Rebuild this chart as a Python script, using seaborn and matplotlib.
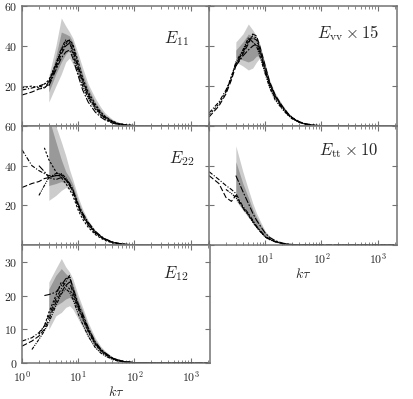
import numpy as np
import pandas as pd
import matplotlib
matplotlib.use("Agg")
import matplotlib.pyplot as plt
from matplotlib.ticker import LogLocator, NullFormatter
import seaborn as sns

nan = np.nan

# wavenumber grid (k*tau) shared by all curves
k = [1, 1.5, 2, 2.5, 3, 4, 5, 6, 7, 8, 10, 12, 15, 20, 25, 30, 40, 50, 70, 100, 200, 2000]
gap = [nan] * 4

# ---- E11 ----
e11_curves = [
    [18, 19, 20, 21, 22, 30, 38, 42, 43, 40, 30, 23, 16, 10, 6.5, 4.5, 2.3, 1.3, 0.5, 0.2, 0.03, 0],
    [15.5, 17, 18.5, 19, 21, 29, 36, 40, 41.5, 38, 29, 22, 15, 9.5, 6, 4, 2, 1.1, 0.45, 0.15, 0.02, 0],
    [nan, nan, 20, 19, 22, 31, 39, 43, 42, 36, 27, 20, 14, 8.5, 5.5, 3.5, 1.8, 1, 0.4, 0.15, 0.02, 0],
    [nan, nan, nan, nan, 20, 28, 34, 37, 38, 34, 25, 18, 12, 7, 4.5, 3, 1.5, 0.8, 0.3, 0.1, 0.01, 0],
    [19, 20, 19, 21, 23, 31, 37, 41, 43, 41, 32, 24, 17, 11, 7, 4.8, 2.5, 1.4, 0.6, 0.25, 0.04, 0],
]
e11_light_lo = gap + [12, 20, 26, 32, 34, 31, 25, 19, 13, 8, 5, 3.3, 1.6, 0.9, 0.3, 0.1, 0.01, 0]
e11_light_hi = gap + [25, 40, 54, 50, 47, 44, 36, 29, 21, 14, 9.5, 6.5, 3.5, 2, 0.9, 0.4, 0.05, 0]
e11_dark_lo = gap + [17, 26, 32, 36, 38, 35, 27, 21, 14.5, 9, 6, 4, 2, 1.1, 0.4, 0.15, 0.02, 0]
e11_dark_hi = gap + [22, 35, 47, 46, 45, 42, 33, 26, 19, 12, 8, 5.5, 3, 1.7, 0.7, 0.3, 0.04, 0]

# ---- Evv x 15 ----
evv_curves = [
    [6.5, 12, 18, 24, 31, 37, 42, 44, 43, 38, 28, 21, 15, 9.5, 6, 4, 2, 1.1, 0.4, 0.15, 0.02, 0],
    [4.5, 10, 16, 23, 30, 36, 41, 46, 45, 40, 30, 22, 15.5, 10, 6.5, 4.3, 2.2, 1.2, 0.45, 0.15, 0.02, 0],
    [nan, nan, 17, 24, 32, 38, 44, 42, 40, 35, 26, 19, 13, 8.5, 5.5, 3.6, 1.8, 1, 0.35, 0.12, 0.02, 0],
    [nan, nan, nan, nan, 30, 35, 38, 40, 41, 37, 27, 20, 14, 9, 5.8, 3.8, 1.9, 1.05, 0.4, 0.13, 0.02, 0],
    [5.5, 11, 17, 25, 31, 37, 43, 45, 44, 39, 29, 21.5, 15, 9.8, 6.3, 4.1, 2.1, 1.15, 0.42, 0.14, 0.02, 0],
]
evv_light_lo = gap + [32, 30, 28, 29, 32, 34, 26, 19.5, 13.5, 8.8, 5.7, 3.8, 1.9, 1.05, 0.38, 0.13, 0.02, 0]
evv_light_hi = gap + [42, 46, 51, 48, 45, 41, 31, 23, 16.5, 10.8, 7, 4.6, 2.4, 1.3, 0.5, 0.17, 0.03, 0]
evv_dark_lo = gap + [34, 33, 32, 33, 35, 35, 27, 20, 14, 9.2, 6, 3.9, 2, 1.1, 0.4, 0.14, 0.02, 0]
evv_dark_hi = gap + [38, 42, 46, 45, 43, 39, 30, 22, 15.8, 10.3, 6.7, 4.4, 2.3, 1.25, 0.46, 0.16, 0.02, 0]

# ---- E22 ----
e22_curves = [
    [48, 40, 37.5, 36, 35, 35, 35, 33, 30, 27, 19, 14.5, 10, 6, 4, 2.7, 1.4, 0.8, 0.3, 0.1, 0.01, 0],
    [29, 31, 32, 33.5, 34, 35, 35.5, 33, 30, 27, 19.5, 15, 10.5, 6.3, 4.2, 2.8, 1.4, 0.8, 0.3, 0.1, 0.01, 0],
    [nan, nan, 25, 30, 34, 36, 36, 34, 31, 28, 20, 15.5, 11, 6.6, 4.4, 3, 1.5, 0.85, 0.3, 0.1, 0.01, 0],
    [nan, nan, 40, 37, 34, 33, 34, 33, 31, 28, 20.5, 16, 11.5, 7, 4.6, 3.1, 1.6, 0.9, 0.32, 0.1, 0.01, 0],
    [nan, nan, nan, 49, 43, 37, 34, 31, 28, 25, 17.5, 13, 9, 5.3, 3.5, 2.3, 1.1, 0.6, 0.2, 0.07, 0.01, 0],
]
e22_light_lo = gap + [22.5, 25, 27.5, 29, 28, 25.5, 19, 14.5, 10, 6, 4, 2.7, 1.3, 0.75, 0.26, 0.08, 0.01, 0]
e22_light_hi = gap + [66, 60, 52, 45, 38, 33, 24, 18, 12.5, 7.5, 5, 3.4, 1.7, 1, 0.35, 0.12, 0.02, 0]
e22_dark_lo = gap + [30, 31, 32, 31, 30, 27.5, 19.5, 15, 10.5, 6.5, 4.3, 2.9, 1.45, 0.82, 0.3, 0.1, 0.01, 0]
e22_dark_hi = gap + [64, 52, 43, 37, 34, 30.5, 22, 16.5, 11.5, 7, 4.7, 3.2, 1.6, 0.9, 0.33, 0.11, 0.01, 0]

# ---- Ett x 10 ----
ett_curves = [
    [37, 33, 30, 28, 26, 19.5, 16, 12.5, 9.5, 7.5, 4.3, 3, 1.8, 0.8, 0.4, 0.22, 0.08, 0.03, 0.01, 0, 0, 0],
    [35, 31, 24, 22, 25, 19, 15.5, 12, 9.2, 7.2, 4.1, 2.8, 1.7, 0.75, 0.38, 0.2, 0.07, 0.03, 0.01, 0, 0, 0],
    [nan, nan, 28, 26, 24, 18.5, 15, 11.5, 9, 7, 4, 2.7, 1.6, 0.7, 0.35, 0.2, 0.07, 0.03, 0.01, 0, 0, 0],
    [nan, nan, nan, nan, 35, 27, 21, 16, 12.5, 10, 6, 3.8, 2.2, 1, 0.5, 0.28, 0.1, 0.04, 0.01, 0, 0, 0],
]
ett_light_lo = gap + [22.5, 17.5, 14, 11, 8.5, 6.5, 3.7, 2.5, 1.4, 0.6, 0.3, 0.17, 0.06, 0.02, 0.01, 0, 0, 0]
ett_light_hi = gap + [50, 37, 28, 21, 16, 12.5, 7, 4.5, 2.6, 1.2, 0.6, 0.33, 0.12, 0.05, 0.01, 0, 0, 0]
ett_dark_lo = gap + [26, 20, 16, 12.5, 9.5, 7.5, 4.3, 2.9, 1.7, 0.75, 0.38, 0.21, 0.08, 0.03, 0.01, 0, 0, 0]
ett_dark_hi = gap + [42, 31, 24, 18, 14, 11, 6.2, 4, 2.3, 1.05, 0.52, 0.29, 0.1, 0.04, 0.01, 0, 0, 0]

# ---- E12 ----
e12_curves = [
    [6.5, 7.5, 9, 11, 14, 19, 22, 24, 26, 22, 17, 14, 10, 6, 4, 2.9, 1.5, 0.9, 0.35, 0.12, 0.01, 0],
    [5, 6.5, 8, 10, 13, 18, 21, 23, 24, 21, 16.5, 13.5, 9.7, 5.8, 3.8, 2.7, 1.4, 0.8, 0.3, 0.1, 0.01, 0],
    [nan, 4, 7, 9.5, 12, 17, 20.5, 22, 21, 19, 14.5, 11.5, 8, 4.6, 3, 2.1, 1.1, 0.6, 0.22, 0.08, 0.01, 0],
    [nan, nan, nan, 20, 20.3, 21, 23, 25, 25.5, 22.5, 17.5, 14.5, 10.5, 6.3, 4.2, 3, 1.6, 0.95, 0.36, 0.12, 0.01, 0],
    [nan, nan, 8.5, 11, 15, 20, 24, 23, 22, 20, 16, 13, 9.3, 5.5, 3.6, 2.5, 1.3, 0.75, 0.28, 0.1, 0.01, 0],
]
e12_light_lo = gap + [10, 14, 15, 16.5, 17, 16, 13, 10.5, 7.5, 4.5, 3, 2.1, 1.1, 0.6, 0.22, 0.07, 0.01, 0]
e12_light_hi = gap + [24, 28, 31, 28.5, 27, 25, 20, 16.5, 12, 7.5, 5, 3.6, 1.9, 1.1, 0.42, 0.15, 0.02, 0]
e12_dark_lo = gap + [14, 17, 18, 19, 19.5, 18.5, 15, 12, 8.7, 5.2, 3.4, 2.4, 1.25, 0.7, 0.26, 0.09, 0.01, 0]
e12_dark_hi = gap + [22, 26, 28, 26.5, 25.5, 23.5, 18.5, 15.5, 11, 6.8, 4.5, 3.2, 1.7, 1, 0.38, 0.13, 0.02, 0]

sns.set_style("ticks")
plt.rcParams["mathtext.fontset"] = "cm"
plt.rcParams["font.family"] = ["DejaVu Serif"]

line_styles = [(0, (4, 1.5, 1, 1.5)), (0, (5, 2)), (0, (3, 1, 1, 1, 1, 1)),
               (0, (6, 1.5, 1.5, 1.5)), (0, (2, 1.5))]
SPINE = "0.45"
W = 188 / 413

fig = plt.figure(figsize=(4.13, 3.99), dpi=100)
ax11 = fig.add_axes([22 / 413, 1 - 126 / 399, W, 120 / 399])
axvv = fig.add_axes([209 / 413, 1 - 126 / 399, W, 120 / 399])
ax22 = fig.add_axes([22 / 413, 1 - 245 / 399, W, 119 / 399])
axtt = fig.add_axes([209 / 413, 1 - 245 / 399, W, 119 / 399])
ax12 = fig.add_axes([22 / 413, 1 - 363 / 399, W, 118 / 399])

panels = [
    (ax11, e11_curves, e11_light_lo, e11_light_hi, e11_dark_lo, e11_dark_hi, r"$E_{11}$", (0.82, 0.73)),
    (axvv, evv_curves, evv_light_lo, evv_light_hi, evv_dark_lo, evv_dark_hi, r"$E_{\rm vv}\times 15$", (0.74, 0.775)),
    (ax22, e22_curves, e22_light_lo, e22_light_hi, e22_dark_lo, e22_dark_hi, r"$E_{22}$", (0.85, 0.73)),
    (axtt, ett_curves, ett_light_lo, ett_light_hi, ett_dark_lo, ett_dark_hi, r"$E_{\rm tt}\times 10$", (0.74, 0.79)),
    (ax12, e12_curves, e12_light_lo, e12_light_hi, e12_dark_lo, e12_dark_hi, r"$E_{12}$", (0.82, 0.76)),
]

for ax, curves, llo, lhi, dlo, dhi, label, pos in panels:
    ax.fill_between(k, llo, lhi, color="0.8", lw=0)
    ax.fill_between(k, dlo, dhi, color="0.6", lw=0)
    for i, vals in enumerate(curves):
        df = pd.DataFrame({"k": k, "E": vals}).dropna()
        sns.lineplot(data=df, x="k", y="E", ax=ax, color="black", lw=0.8,
                     linestyle=line_styles[i % len(line_styles)], estimator=None, sort=False)
    ax.set_xscale("log")
    ax.set_xlim(1, 2200)
    ax.set_xlabel("")
    ax.set_ylabel("")
    ax.text(pos[0], pos[1], label, transform=ax.transAxes, ha="center", va="center", fontsize=12)
    for s in ax.spines.values():
        s.set_visible(True)
        s.set_color(SPINE)
        s.set_linewidth(1.1)
    ax.set_xticks([1, 10, 100, 1000])
    ax.xaxis.set_minor_locator(LogLocator(base=10, subs=range(2, 10), numticks=20))
    ax.xaxis.set_minor_formatter(NullFormatter())
    ax.set_xticklabels([])
    ax.tick_params(which="both", direction="in", top=True, right=True, color=SPINE, labelsize=8.5)
    ax.tick_params(which="major", length=3.5, width=0.8)
    ax.tick_params(which="minor", length=2, width=0.6)
    ax.tick_params(axis="x", pad=5)

for ax in (ax11, axvv, ax22, axtt):
    ax.set_ylim(0, 60)
    ax.set_yticks([0, 20, 40, 60])
for ax in (ax11, ax22):
    ax.set_yticklabels(["", "$20$", "$40$", "$60$"])
for ax in (axvv, axtt):
    ax.set_yticklabels([])

ax12.set_ylim(0, 35)
ax12.set_yticks([0, 10, 20, 30])
ax12.set_yticklabels(["$0$", "$10$", "$20$", "$30$"])
ax12.set_xticklabels(["$10^{0}$", "$10^{1}$", "$10^{2}$", "$10^{3}$"])
axtt.set_xticklabels(["", "$10^{1}$", "$10^{2}$", "$10^{3}$"])
ax12.set_xlabel(r"$k\tau$", fontsize=10, labelpad=0)
axtt.set_xlabel(r"$k\tau$", fontsize=10, labelpad=0)

fig.savefig("out.png", dpi=100)
